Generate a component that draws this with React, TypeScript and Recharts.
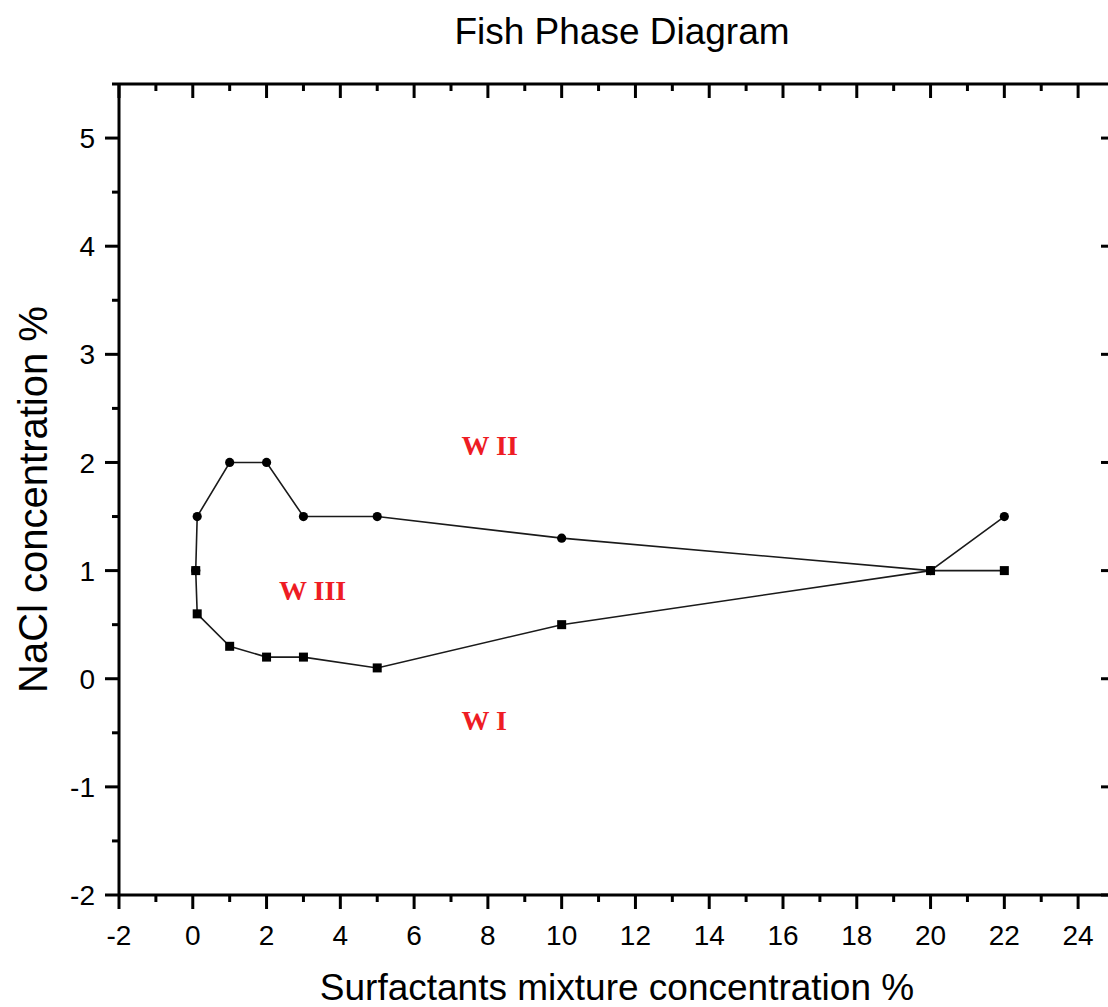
import React from 'react';
import { LineChart, Line, XAxis, YAxis, ReferenceDot, Label } from 'recharts';

// Fish phase diagram: upper and lower boundary of the W III region
const upperX = [0.08, 0.12, 1, 2, 3, 5, 10, 20, 22];
const upperY = [1, 1.5, 2, 2, 1.5, 1.5, 1.3, 1, 1.5];
const lowerX = [0.08, 0.12, 1, 2, 3, 5, 10, 20, 22];
const lowerY = [1, 0.6, 0.3, 0.2, 0.2, 0.1, 0.5, 1, 1];

const xTicks = [-2, -1, 0, 1, 2, 3, 4, 5, 6, 7, 8, 9, 10, 11, 12, 13, 14, 15, 16, 17, 18, 19, 20, 21, 22, 23, 24, 25];
const yTicks = [-2, -1.5, -1, -0.5, 0, 0.5, 1, 1.5, 2, 2.5, 3, 3.5, 4, 4.5, 5, 5.5];

// region annotations (data units)
const regionNames = ['W II', 'W III', 'W I'];
const regionX = [8.05, 3.25, 7.9];
const regionY = [2.16, 0.82, -0.38];

const upper = upperX.map((x, i) => ({ x, y: upperY[i] }));
const lower = lowerX.map((x, i) => ({ x, y: lowerY[i] }));

const FONT = "Arial, 'Liberation Sans', sans-serif";
const AXIS = { stroke: '#000', strokeWidth: 3 };

function AxisTick(props: any) {
  const { x, y, payload, side } = props;
  const v = payload.value as number;
  if (side === 'bottom' || side === 'top') {
    const major = v % 2 === 0;
    const len = major ? 14 : 7;
    return (
      <g>
        <line x1={x} y1={y} x2={x} y2={y + len} stroke="#000" strokeWidth={3} />
        {side === 'bottom' && major && (
          <text x={x} y={y + 50} textAnchor="middle" fontSize={28} fontFamily={FONT} fill="#000">
            {String(v)}
          </text>
        )}
      </g>
    );
  }
  // left ticks point outward, right (mirrored) ticks point inward: both go to the left
  const major = Number.isInteger(v);
  const len = major ? 14 : 7;
  return (
    <g>
      <line x1={x} y1={y} x2={x - len} y2={y} stroke="#000" strokeWidth={3} />
      {side === 'left' && major && (
        <text x={x - 24} y={y} dy="0.36em" textAnchor="end" fontSize={28} fontFamily={FONT} fill="#000">
          {String(v)}
        </text>
      )}
    </g>
  );
}

function CircleDot(p: any) {
  return <circle key={`c-${p.index}`} cx={p.cx} cy={p.cy} r={4.6} fill="#000" />;
}

function SquareDot(p: any) {
  return <rect key={`s-${p.index}`} x={p.cx - 4.5} y={p.cy - 4.5} width={9} height={9} fill="#000" />;
}

function YTitle(props: any) {
  const vb = props.viewBox;
  const cx = vb.x + 33;
  const cy = vb.y + vb.height / 2 + 10;
  return (
    <text
      x={cx}
      y={cy}
      transform={`rotate(-90, ${cx}, ${cy})`}
      textAnchor="middle"
      dominantBaseline="central"
      fontSize={40}
      fontFamily={FONT}
      fill="#000"
    >
      NaCl concentration %
    </text>
  );
}

export default function App() {
  return (
    <div
      style={{
        position: 'fixed',
        left: 0,
        top: 0,
        width: 1108,
        height: 1007,
        overflow: 'hidden',
        background: '#fff',
      }}
    >
      <div
        style={{
          position: 'absolute',
          left: 622,
          top: 12,
          transform: 'translateX(-50%)',
          whiteSpace: 'nowrap',
          fontFamily: FONT,
          fontSize: 37,
          lineHeight: '40px',
          color: '#000',
        }}
      >
        Fish Phase Diagram
      </div>
      <LineChart width={1130} height={1007} margin={{ top: 84, right: 15, bottom: 0, left: 0 }}>
        <XAxis
          xAxisId="b"
          type="number"
          dataKey="x"
          domain={[-2, 25]}
          ticks={xTicks}
          interval={0}
          allowDataOverflow
          tickLine={false}
          tickSize={0}
          tickMargin={0}
          tick={<AxisTick side="bottom" />}
          axisLine={AXIS}
          height={112}
        >
          <Label
            value="Surfactants mixture concentration %"
            position="insideBottom"
            offset={7}
            fontSize={37}
            fontFamily={FONT}
            fill="#000"
          />
        </XAxis>
        <XAxis
          xAxisId="t"
          orientation="top"
          mirror
          type="number"
          dataKey="x"
          domain={[-2, 25]}
          ticks={xTicks}
          interval={0}
          allowDataOverflow
          tickLine={false}
          tickSize={0}
          tickMargin={0}
          tick={<AxisTick side="top" />}
          axisLine={AXIS}
          height={1}
        />
        <YAxis
          yAxisId="l"
          type="number"
          domain={[-2, 5.5]}
          ticks={yTicks}
          interval={0}
          allowDataOverflow
          tickLine={false}
          tickSize={0}
          tickMargin={0}
          tick={<AxisTick side="left" />}
          axisLine={AXIS}
          width={119}
          label={{ content: <YTitle /> }}
        />
        <YAxis
          yAxisId="r"
          orientation="right"
          mirror
          type="number"
          domain={[-2, 5.5]}
          ticks={yTicks}
          interval={0}
          allowDataOverflow
          tickLine={false}
          tickSize={0}
          tickMargin={0}
          tick={<AxisTick side="right" />}
          axisLine={AXIS}
          width={1}
        />
        {/* invisible copy so the frame axes have a series attached */}
        <Line
          xAxisId="t"
          yAxisId="r"
          data={upper}
          dataKey="y"
          stroke="none"
          dot={false}
          activeDot={false}
          isAnimationActive={false}
        />
        <Line
          xAxisId="b"
          yAxisId="l"
          data={upper}
          dataKey="y"
          type="linear"
          stroke="#1a1a1a"
          strokeWidth={1.6}
          dot={CircleDot}
          activeDot={false}
          isAnimationActive={false}
        />
        <Line
          xAxisId="b"
          yAxisId="l"
          data={lower}
          dataKey="y"
          type="linear"
          stroke="#1a1a1a"
          strokeWidth={1.6}
          dot={SquareDot}
          activeDot={false}
          isAnimationActive={false}
        />
        {regionNames.map((name, i) => (
          <ReferenceDot
            key={name}
            xAxisId="b"
            yAxisId="l"
            x={regionX[i]}
            y={regionY[i]}
            r={1}
            fill="none"
            stroke="none"
            label={{
              value: name,
              position: 'center',
              fill: '#ee1c24',
              fontSize: 28,
              fontWeight: 'bold',
              fontFamily: "'Times New Roman', 'Liberation Serif', serif",
            }}
          />
        ))}
      </LineChart>
    </div>
  );
}
